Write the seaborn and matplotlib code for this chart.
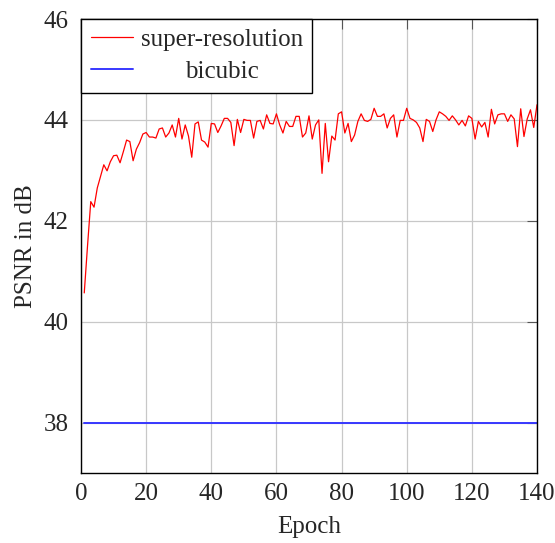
import numpy as np
import pandas as pd
import matplotlib
matplotlib.use('Agg')
import matplotlib.pyplot as plt
import seaborn as sns

sns.set_style('white')
plt.rcParams['font.family'] = 'serif'
plt.rcParams['font.serif'] = ['Liberation Serif', 'Times New Roman', 'DejaVu Serif']

epochs = list(range(1, 141))

sr_psnr = [
    40.57, 41.50, 42.38, 42.27, 42.65, 42.88, 43.11, 42.99, 43.17, 43.29,
    43.30, 43.15, 43.37, 43.60, 43.57, 43.19, 43.42, 43.55, 43.72, 43.75,
    43.66, 43.66, 43.64, 43.82, 43.84, 43.66, 43.74, 43.90, 43.66, 44.03,
    43.62, 43.90, 43.68, 43.26, 43.92, 43.96, 43.60, 43.56, 43.46, 43.93,
    43.92, 43.75, 43.88, 44.03, 44.03, 43.95, 43.49, 44.01, 43.75, 44.01,
    43.99, 43.99, 43.64, 43.97, 43.99, 43.82, 44.10, 43.93, 43.92, 44.12,
    43.90, 43.74, 43.97, 43.87, 43.87, 44.07, 44.07, 43.66, 43.74, 44.08,
    43.62, 43.90, 44.00, 42.94, 43.93, 43.17, 43.68, 43.60, 44.12, 44.16,
    43.74, 43.93, 43.57, 43.70, 43.97, 44.12, 43.99, 43.97, 44.01, 44.23,
    44.07, 44.07, 44.12, 43.84, 44.03, 44.10, 43.66, 43.99, 43.99, 44.23,
    44.03, 44.00, 43.95, 43.84, 43.57, 44.01, 43.97, 43.77, 44.00, 44.16,
    44.12, 44.07, 43.99, 44.08, 44.00, 43.90, 43.99, 43.88, 44.08, 44.03,
    43.62, 43.97, 43.86, 43.95, 43.66, 44.21, 43.92, 44.10, 44.12, 44.12,
    43.97, 44.10, 44.02, 43.47, 44.22, 43.67, 44.02, 44.20, 43.85, 44.30,
]
bicubic_psnr = [38.0] * len(epochs)

x_ticks = [0, 20, 40, 60, 80, 100, 120, 140]
y_ticks = [38, 40, 42, 44, 46]

df = pd.DataFrame({'epoch': epochs, 'sr': sr_psnr, 'bicubic': bicubic_psnr})

fig = plt.figure(figsize=(5.55, 5.43), dpi=100)
ax = fig.add_axes([81 / 555, 1 - 473 / 543, 456 / 555, 454 / 543])

sns.lineplot(data=df, x='epoch', y='sr', color='red', linewidth=0.9, label='super-resolution', ax=ax)
sns.lineplot(data=df, x='epoch', y='bicubic', color='#3838ff', linewidth=1.4, label='bicubic', ax=ax)

ax.set_xlim(0, 140)
ax.set_ylim(37, 46)
ax.set_xticks(x_ticks)
ax.set_yticks(y_ticks)
ax.grid(True, color='#c8c8c8', linewidth=0.9)
ax.set_axisbelow(True)
for s in ax.spines.values():
    s.set_color('black')
    s.set_linewidth(1.0)
ax.tick_params(direction='in', length=7, width=0.8, color='#555555',
               top=True, right=True, labelsize=18)
ax.tick_params(axis='y', pad=9)
ax.tick_params(axis='x', pad=7)
ax.set_xlabel('Epoch', fontsize=18, labelpad=8)
ax.set_ylabel('PSNR in dB', fontsize=18, labelpad=5)

leg = ax.legend(loc='upper left', bbox_to_anchor=(0, 1), borderaxespad=0,
                fontsize=18, fancybox=False, edgecolor='black', framealpha=1,
                handlelength=1.7, handletextpad=0.3, borderpad=0.38, labelspacing=0.38)
leg.get_frame().set_linewidth(1.0)

# center the legend labels like pgfplots does
fig.canvas.draw()
renderer = fig.canvas.get_renderer()
widths = [t.get_window_extent(renderer).width for t in leg.get_texts()]
shift = max(widths)
for t, w in zip(leg.get_texts(), widths):
    t.set_position(((shift - w) / 2, 0))

fig.savefig('out.png', dpi=100)
